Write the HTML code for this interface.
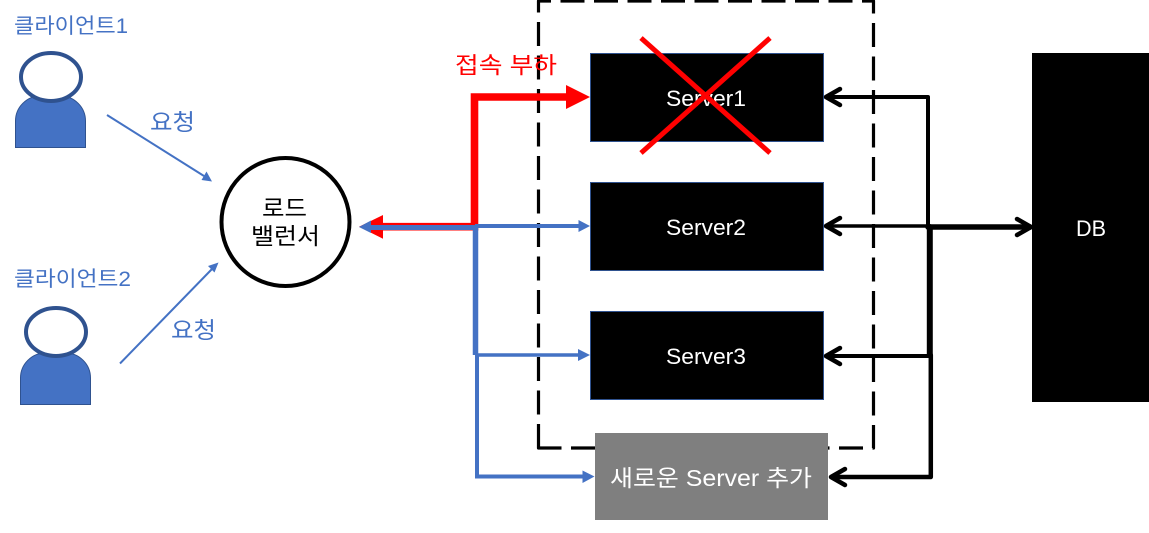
<!DOCTYPE html>
<html lang="ko">
<head>
<meta charset="utf-8">
<title>로드 밸런서 구성도</title>
<style>
html,body{margin:0;padding:0;background:#fff;width:1149px;height:533px;overflow:hidden}
svg{display:block}
text{font-family:"Liberation Sans","Noto Sans CJK KR",sans-serif}
</style>
</head>
<body>
<svg width="1149" height="533" viewBox="0 0 1149 533" xmlns="http://www.w3.org/2000/svg">
<rect width="1149" height="533" fill="#fff"/>

<!-- dashed group -->
<path d="M538.5 448V1H873.5V448Z" fill="none" stroke="#000" stroke-width="3.2" stroke-dasharray="24 9.5" stroke-linejoin="round"/>

<!-- clients -->
<path d="M15.5 147.5V121a25 25 0 0 1 25-25h20a25 25 0 0 1 25 25v26.5Z" fill="#4472c4" stroke="#2f528f"/>
<ellipse cx="51" cy="77" rx="30" ry="24" fill="#fff" stroke="#2f528f" stroke-width="4"/>
<path d="M20.5 404.5V378a25 25 0 0 1 25-25h20a25 25 0 0 1 25 25v26.5Z" fill="#4472c4" stroke="#2f528f"/>
<ellipse cx="56" cy="332" rx="30" ry="24" fill="#fff" stroke="#2f528f" stroke-width="4"/>
<text x="14" y="33" font-size="21" fill="#4472c4" textLength="114" lengthAdjust="spacingAndGlyphs">클라이언트1</text>
<text x="14" y="286" font-size="21" fill="#4472c4" textLength="117" lengthAdjust="spacingAndGlyphs">클라이언트2</text>

<!-- request arrows -->
<line x1="107" y1="115" x2="204" y2="176" stroke="#4472c4" stroke-width="2"/>
<path d="M212 181.500L201.500 180L206.500 171.500Z" fill="#4472c4"/>
<line x1="120" y1="363.500" x2="212" y2="269" stroke="#4472c4" stroke-width="2"/>
<path d="M218.500 262.500L214.500 272.500L208 266Z" fill="#4472c4"/>
<text x="150" y="130" font-size="23" fill="#4472c4" textLength="45" lengthAdjust="spacingAndGlyphs">요청</text>
<text x="171" y="338" font-size="23" fill="#4472c4" textLength="45" lengthAdjust="spacingAndGlyphs">요청</text>

<!-- load balancer -->
<circle cx="285.500" cy="222" r="64" fill="#fff" stroke="#000" stroke-width="4"/>
<text x="262" y="216" font-size="23" fill="#000" textLength="45" lengthAdjust="spacingAndGlyphs">로드</text>
<text x="251" y="244" font-size="23" fill="#000" textLength="69" lengthAdjust="spacingAndGlyphs">밸런서</text>

<!-- servers -->
<rect x="590.500" y="53.500" width="233" height="88" fill="#000" stroke="#2f528f"/>
<rect x="590.500" y="182.500" width="233" height="88" fill="#000" stroke="#2f528f"/>
<rect x="590.500" y="311.500" width="233" height="88" fill="#000" stroke="#2f528f"/>
<rect x="595" y="433" width="233" height="87" fill="#7f7f7f"/>
<rect x="1032" y="53" width="117" height="349" fill="#000"/>
<text x="666" y="106" font-size="22" fill="#fff" textLength="80" lengthAdjust="spacingAndGlyphs">Server1</text>
<text x="666" y="235" font-size="22" fill="#fff" textLength="80" lengthAdjust="spacingAndGlyphs">Server2</text>
<text x="666" y="364" font-size="22" fill="#fff" textLength="80" lengthAdjust="spacingAndGlyphs">Server3</text>
<text x="610" y="486" font-size="23" fill="#fff" textLength="202" lengthAdjust="spacingAndGlyphs">새로운 Server 추가</text>
<text x="1076" y="236" font-size="22" fill="#fff" textLength="30" lengthAdjust="spacingAndGlyphs">DB</text>

<!-- red overload connector -->
<path d="M378 226.700H474.500V97H570" fill="none" stroke="#f00" stroke-width="7.600"/>
<path d="M590 97L566 85V109Z" fill="#f00"/>
<path d="M359 226.700L383 215V238.700Z" fill="#f00"/>
<text x="455" y="73" font-size="23" fill="#f00" textLength="102" lengthAdjust="spacingAndGlyphs">접속 부하</text>

<!-- blue connectors -->
<path d="M368 227.500H475" fill="none" stroke="#4472c4" stroke-width="5"/>
<path d="M359 227L371 220.500V233Z" fill="#4472c4"/>
<path d="M475 226H580" fill="none" stroke="#4472c4" stroke-width="4"/>
<path d="M590 226L578.500 220V232Z" fill="#4472c4"/>
<path d="M475.500 225V355" fill="none" stroke="#4472c4" stroke-width="5.500"/>
<path d="M475 355H580" fill="none" stroke="#4472c4" stroke-width="3.500"/>
<path d="M590 355L578 349V361Z" fill="#4472c4"/>
<path d="M477 355V476.500H585" fill="none" stroke="#4472c4" stroke-width="4"/>
<path d="M594.500 476.500L582.500 470.500V483Z" fill="#4472c4"/>

<!-- black connectors -->
<g fill="none" stroke="#000" stroke-linecap="round" stroke-linejoin="round">
<path d="M826 97H928V227" stroke-width="4"/>
<path d="M826 226H928" stroke-width="3.500"/>
<path d="M928 227H1030" stroke-width="5.500"/>
<path d="M929.800 227V355" stroke-width="6"/>
<path d="M826 356H930" stroke-width="4"/>
<path d="M930.800 355V477H832" stroke-width="4.500"/>
<path d="M840 89L826 97L840 105" stroke-width="4.500"/>
<path d="M840 218L826 226L840 234" stroke-width="4.500"/>
<path d="M840 348L826 356L840 364" stroke-width="4.500"/>
<path d="M845 469L831 477L845 485" stroke-width="4.500"/>
<path d="M1017 219L1031 227L1017 235" stroke-width="4.500"/>
</g>

<!-- red cross -->
<line x1="641" y1="38" x2="770" y2="153" stroke="#f00" stroke-width="5"/>
<line x1="770" y1="38" x2="641" y2="153" stroke="#f00" stroke-width="5"/>
</svg>
</body>
</html>
